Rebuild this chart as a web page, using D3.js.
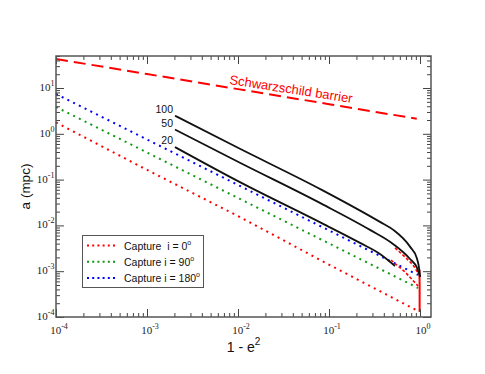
<!DOCTYPE html>
<html>
<head>
<meta charset="utf-8">
<script src="https://cdnjs.cloudflare.com/ajax/libs/d3/7.8.5/d3.min.js"></script>
<style>
  body { margin: 0; background: #fff; }
  text { font-family: "Liberation Sans", Arial, sans-serif; }
  .tick-label { font-family: "Liberation Serif", "Times New Roman", serif; font-size: 11px; fill: #222; }
</style>
</head>
<body>
<div id="chart"></div>
<script>
// decades used for the log axes
var xDecades = [-4, -3, -2, -1, 0];
var yDecades = [-4, -3, -2, -1, 0, 1];

// Schwarzschild barrier (1-e^2, a)
var barrierX = [1e-4, 1e-3, 1e-2, 1e-1, 0.92];
var barrierA = [43.0, 20.2, 9.46, 4.44, 2.13];

// capture curves, dotted
var captureX = [1e-4, 1e-3, 1e-2, 1e-1, 0.95];
var capture0 = [1.77, 0.163, 0.016, 1.39e-3, 1.35e-4];
var capture90 = [3.85, 0.391, 0.0397, 4.04e-3, 4.3e-4];
var capture180 = [7.4, 0.752, 0.0764, 7.76e-3, 8.3e-4];
var captureNames = ["Capture  i = 0", "Capture i = 90", "Capture i = 180"];
var captureColors = ["#ff0000", "#119911", "#0000ff"];

// solid black curves labelled 100, 50, 20
var curveLabels = ["100", "50", "20"];
var curve100X = [2.03e-3, 1.05e-2, 8.32e-2, 0.363, 0.509, 0.776, 0.921, 0.982, 1.0];
var curve100A = [2.48, 0.471, 0.0598, 0.01194, 7.98e-3, 3.44e-3, 1.95e-3, 1.07e-3, 7.5e-4];
var curve50X = [2.03e-3, 1.05e-2, 8.32e-2, 0.282, 0.505, 0.776, 0.927, 1.0];
var curve50A = [1.24, 0.233, 0.0295, 7.98e-3, 3.94e-3, 1.85e-3, 1.18e-3, 7.5e-4];
var curve20X = [2.03e-3, 1.05e-2, 8.32e-2, 0.219, 0.363, 0.531];
var curve20A = [0.513, 0.088, 0.0112, 4.15e-3, 2.38e-3, 1.30e-3];

// red pieces near 1-e^2 = 1
var redTailX = [0.48, 0.684, 0.951];
var redTailA = [1.75e-3, 9.64e-4, 4.77e-4];
var red50X = [0.531, 0.684, 0.838, 0.951];
var red50A = [3.23e-3, 2.05e-3, 1.37e-3, 9.16e-4];
var redDropX = [0.985, 0.99, 0.99];
var redDropA = [1.07e-3, 5e-4, 1.29e-4];

var width = 485, height = 374;
var mLeft = 56, mRight = 431, mTop = 56, mBottom = 317;

var svg = d3.select("#chart").append("svg")
    .attr("width", width)
    .attr("height", height);

var x = d3.scaleLog().domain([1e-4, 1.32]).range([mLeft, mRight]);
var y = d3.scaleLog().domain([1e-4, 50]).range([mBottom, mTop]);

function zip(xs, ys) { return xs.map(function(v, i) { return [v, ys[i]]; }); }

var line = d3.line()
    .x(function(d) { return x(d[0]); })
    .y(function(d) { return y(d[1]); });

var plot = svg.append("g");

// Schwarzschild barrier
plot.append("path")
    .attr("d", line(zip(barrierX, barrierA)))
    .attr("fill", "none")
    .attr("stroke", "#ff0000")
    .attr("stroke-width", 2)
    .attr("stroke-dasharray", "12,6");

// capture curves
[capture0, capture90, capture180].forEach(function(vals, i) {
  plot.append("path")
      .attr("d", line(zip(captureX, vals)))
      .attr("fill", "none")
      .attr("stroke", captureColors[i])
      .attr("stroke-width", 2)
      .attr("stroke-dasharray", "2,4.4");
});

// red end pieces (drawn under the black curves)
plot.append("path")
    .attr("d", line(zip(red50X, red50A)))
    .attr("fill", "none").attr("stroke", "#ff0000").attr("stroke-width", 1.6)
    .attr("stroke-dasharray", "3,2");
plot.append("path")
    .attr("d", line(zip(redTailX, redTailA)))
    .attr("fill", "none").attr("stroke", "#ff0000").attr("stroke-width", 1.6)
    .attr("stroke-dasharray", "3,2");
plot.append("path")
    .attr("d", line(zip(redDropX, redDropA)))
    .attr("fill", "none").attr("stroke", "#ff0000").attr("stroke-width", 2);

// black curves
var curves = [zip(curve100X, curve100A), zip(curve50X, curve50A), zip(curve20X, curve20A)];
curves.forEach(function(pts, i) {
  plot.append("path")
      .attr("d", d3.line().curve(d3.curveMonotoneX)
        .x(function(d) { return x(d[0]); })
        .y(function(d) { return y(d[1]); })(pts))
      .attr("fill", "none")
      .attr("stroke", "#111")
      .attr("stroke-width", 1.8);
  plot.append("text")
      .attr("x", x(pts[0][0]) - 2)
      .attr("y", y(pts[0][1]) - 3)
      .attr("text-anchor", "end")
      .attr("font-size", 10.5)
      .attr("fill", "#111")
      .text(curveLabels[i]);
});

// barrier label
svg.append("text")
    .attr("transform", "translate(229,84) rotate(8.8)")
    .attr("font-size", 13)
    .attr("fill", "#ff0000")
    .text("Schwarzschild barrier");

// ticks
function minorTicks(decades, lo, hi) {
  var out = [];
  decades.forEach(function(d) {
    for (var k = 2; k <= 9; k++) {
      var v = k * Math.pow(10, d);
      if (v >= lo && v <= hi) out.push(v);
    }
  });
  return out;
}
var xMajor = xDecades.map(function(d) { return Math.pow(10, d); });
var yMajor = yDecades.map(function(d) { return Math.pow(10, d); });
var xMinor = minorTicks(xDecades, 1e-4, 1.32);
var yMinor = minorTicks(yDecades, 1e-4, 50);

function addAxis(axis, tx, ty) {
  var g = svg.append("g").attr("transform", "translate(" + tx + "," + ty + ")").call(axis);
  g.select(".domain").remove();
  g.selectAll(".tick line").attr("stroke", "#444").attr("stroke-width", 1);
  g.selectAll(".tick text").remove();
}
addAxis(d3.axisBottom(x).tickValues(xMajor).tickSize(-8).tickFormat(""), 0, mBottom);
addAxis(d3.axisBottom(x).tickValues(xMinor).tickSize(-4).tickFormat(""), 0, mBottom);
addAxis(d3.axisTop(x).tickValues(xMajor).tickSize(-8).tickFormat(""), 0, mTop);
addAxis(d3.axisTop(x).tickValues(xMinor).tickSize(-4).tickFormat(""), 0, mTop);
addAxis(d3.axisLeft(y).tickValues(yMajor).tickSize(-8).tickFormat(""), mLeft, 0);
addAxis(d3.axisLeft(y).tickValues(yMinor).tickSize(-4).tickFormat(""), mLeft, 0);
addAxis(d3.axisRight(y).tickValues(yMajor).tickSize(-8).tickFormat(""), mRight, 0);
addAxis(d3.axisRight(y).tickValues(yMinor).tickSize(-4).tickFormat(""), mRight, 0);

// frame
svg.append("rect")
    .attr("x", mLeft).attr("y", mTop)
    .attr("width", mRight - mLeft).attr("height", mBottom - mTop)
    .attr("fill", "none").attr("stroke", "#555").attr("stroke-width", 1.5);

// tick labels
function powLabel(t, e) {
  t.append("tspan").text("10");
  t.append("tspan").attr("dy", -5).attr("font-size", 8).text(e);
}
xDecades.forEach(function(d) {
  var t = svg.append("text").attr("class", "tick-label")
      .attr("x", x(Math.pow(10, d)) + 3).attr("y", 333.5)
      .attr("text-anchor", "middle");
  powLabel(t, d);
});
yDecades.forEach(function(d) {
  var t = svg.append("text").attr("class", "tick-label")
      .attr("x", 54.5).attr("y", y(Math.pow(10, d)) + 3)
      .attr("text-anchor", "end");
  powLabel(t, d);
});

// axis titles
var xt = svg.append("text")
    .attr("x", (mLeft + mRight) / 2).attr("y", 351.5)
    .attr("text-anchor", "middle")
    .attr("font-size", 14)
    .attr("fill", "#111");
xt.append("tspan").text("1 - e");
xt.append("tspan").attr("dy", -7).attr("font-size", 10).text("2");

svg.append("text")
    .attr("transform", "translate(29.5," + ((mTop + mBottom) / 2) + ") rotate(-90)")
    .attr("text-anchor", "middle")
    .attr("font-size", 13.5)
    .attr("fill", "#111")
    .text("a (mpc)");

// legend
var lg = svg.append("g");
lg.append("rect")
    .attr("x", 82.5).attr("y", 235.5).attr("width", 121).attr("height", 52)
    .attr("fill", "#fff").attr("stroke", "#555").attr("stroke-width", 1);
captureNames.forEach(function(name, i) {
  var ly = 245.5 + i * 16.3;
  lg.append("line")
      .attr("x1", 87).attr("x2", 118).attr("y1", ly).attr("y2", ly)
      .attr("stroke", captureColors[i]).attr("stroke-width", 2)
      .attr("stroke-dasharray", "2,3.2");
  var t = lg.append("text")
      .attr("x", 124).attr("y", ly + 4)
      .attr("font-size", 10.5)
      .attr("fill", "#111")
      .style("white-space", "pre");
  t.append("tspan").text(name);
  t.append("tspan").attr("dy", -5).attr("font-size", 7).text("o");
});
</script>
</body>
</html>
